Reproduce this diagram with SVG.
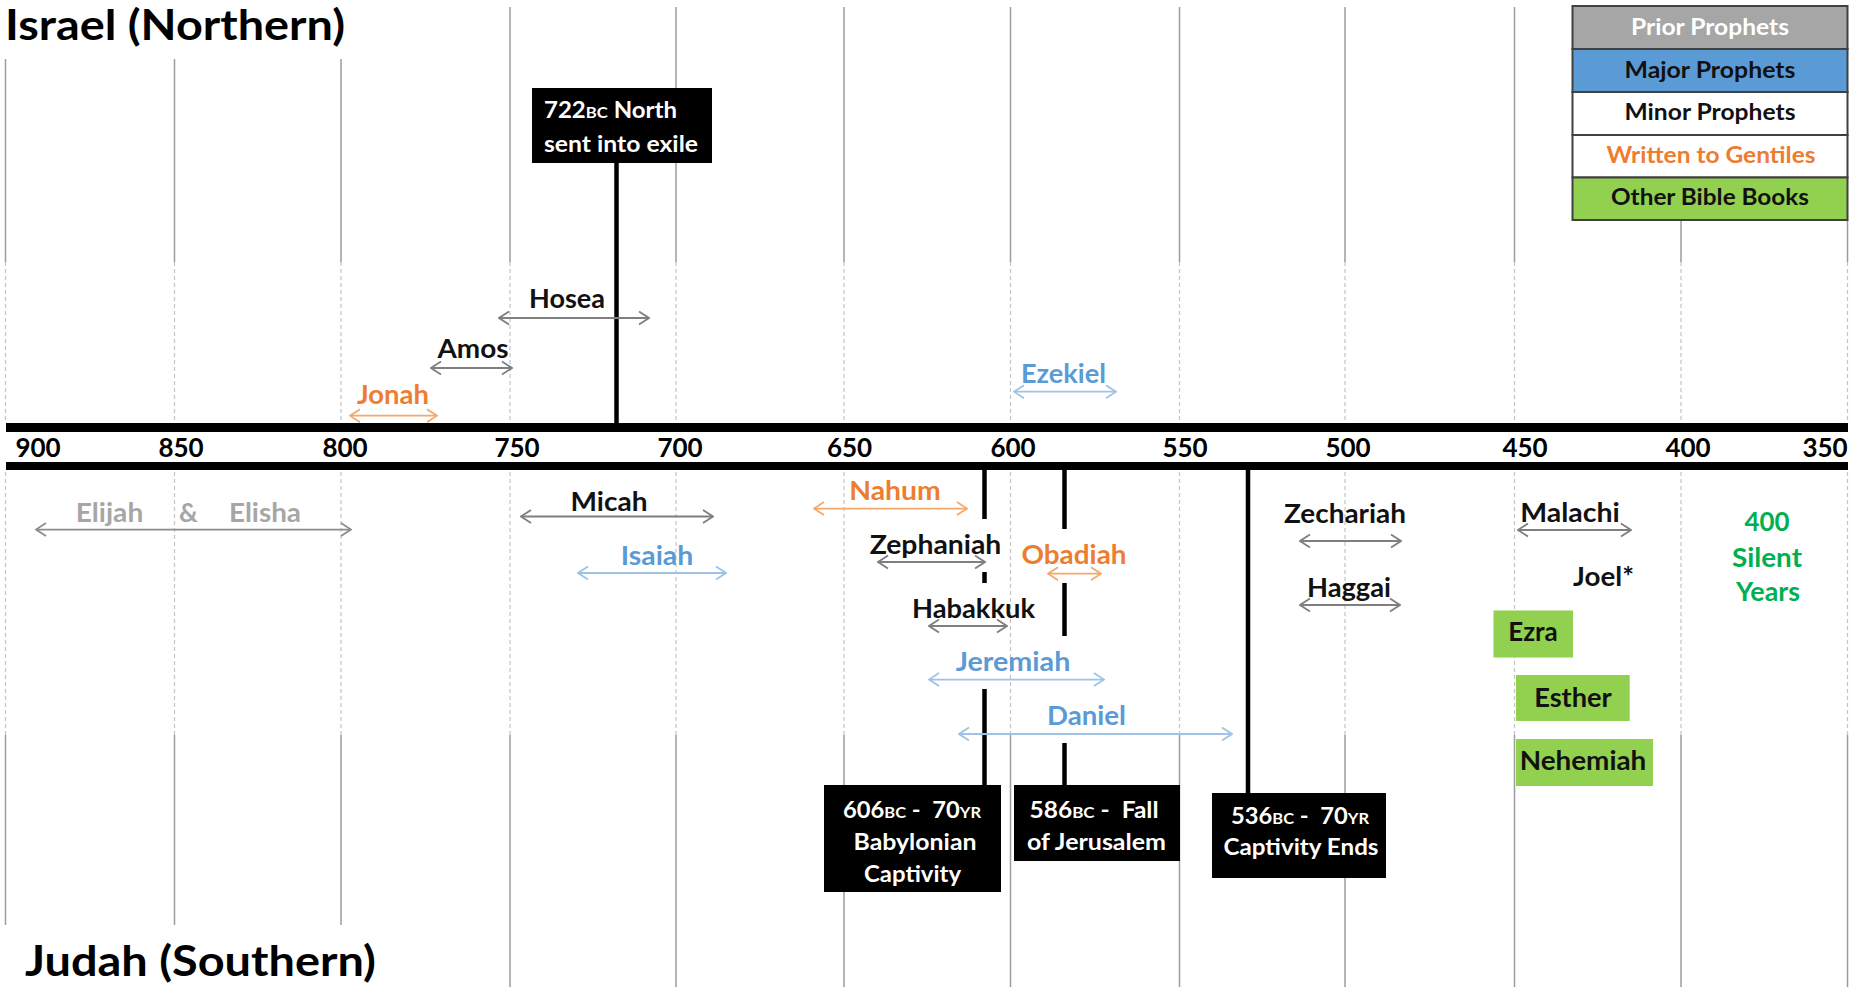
<svg xmlns="http://www.w3.org/2000/svg" width="1865" height="987" viewBox="0 0 1865 987">
<style>
text{font-family:Lato,"Liberation Sans",sans-serif;font-weight:bold}
.ttl{font-size:42px;fill:#000}
.num{font-size:26px;text-anchor:middle;fill:#000}
.lbl{font-size:26px;text-anchor:middle}
.box{font-size:23px;fill:#fff}
.mid{text-anchor:middle}
.leg{font-size:22px;text-anchor:middle}
.sc{font-size:16px}
.k{fill:#111}
.o{fill:#ed7d31}
.b{fill:#5b9bd5}
.g{fill:#a6a6a6}
.gr{fill:#00b050}
.gs{stroke:#9c9c9c;stroke-width:1.5;fill:none}
.gd{stroke:#c4c4c4;stroke-width:1.2;stroke-dasharray:4 3;fill:none}
.ev{stroke:#000;stroke-width:4.5;fill:none}
.ar{stroke-width:1.8;fill:none}
.ak{stroke:#7f7f7f}
.ae{stroke:#8c8c8c}
.ao{stroke:#f4a86c}
.ab{stroke:#9dc3e6}
.lr{stroke:#404040;stroke-width:2}
</style>
<defs>
<marker id="mk" viewBox="0 0 12 16" refX="11" refY="8" markerWidth="12" markerHeight="16" markerUnits="userSpaceOnUse" orient="auto-start-reverse"><path d="M1,1.5 L11,8 L1,14.5" fill="none" stroke="#7f7f7f" stroke-width="1.8"/></marker>
<marker id="me" viewBox="0 0 12 16" refX="11" refY="8" markerWidth="12" markerHeight="16" markerUnits="userSpaceOnUse" orient="auto-start-reverse"><path d="M1,1.5 L11,8 L1,14.5" fill="none" stroke="#8c8c8c" stroke-width="1.8"/></marker>
<marker id="mo" viewBox="0 0 12 16" refX="11" refY="8" markerWidth="12" markerHeight="16" markerUnits="userSpaceOnUse" orient="auto-start-reverse"><path d="M1,1.5 L11,8 L1,14.5" fill="none" stroke="#f4a86c" stroke-width="1.8"/></marker>
<marker id="mb" viewBox="0 0 12 16" refX="11" refY="8" markerWidth="12" markerHeight="16" markerUnits="userSpaceOnUse" orient="auto-start-reverse"><path d="M1,1.5 L11,8 L1,14.5" fill="none" stroke="#9dc3e6" stroke-width="1.8"/></marker>
</defs>
<rect width="1865" height="987" fill="#fff"/>

<g id="grid">
<path class="gs" d="M5.5,59V262M174.5,59V262M341,59V262M510,7V262M676,7V262M844,7V262M1010.5,7V262M1179.5,7V262M1345,7V262M1514.5,7V262M1681,220V262M1847.5,220V262"/>
<path class="gd" d="M5.5,262V423M174.5,262V423M341,262V423M510,262V423M676,262V423M844,262V423M1010.5,262V423M1179.5,262V423M1345,262V423M1514.5,262V423M1681,262V423M1847.5,262V423"/>
<path class="gd" d="M5.5,472V735M174.5,472V735M341,472V735M510,472V735M676,472V735M844,472V735M1010.5,472V735M1179.5,472V735M1345,472V735M1514.5,472V735M1681,472V735M1847.5,472V735"/>
<path class="gs" d="M5.5,735V925M174.5,735V925M341,735V925M510,735V987M676,735V987M844,735V987M1010.5,735V987M1179.5,735V987M1345,735V987M1514.5,735V987M1681,735V987M1847.5,735V987"/>
</g>

<g id="titles">
<text id="t-israel" class="ttl" x="5" y="40" textLength="340" lengthAdjust="spacingAndGlyphs">Israel (Northern)</text>
<text id="t-judah" class="ttl" x="25" y="976" textLength="351" lengthAdjust="spacingAndGlyphs">Judah (Southern)</text>
</g>

<g id="axis">
<rect x="6" y="423" width="1842" height="9" fill="#000"/>
<rect x="6" y="462" width="1842" height="8" fill="#000"/>
<text class="num" x="38" y="457" textLength="45">900</text>
<text class="num" x="181" y="457" textLength="45">850</text>
<text class="num" x="345" y="457" textLength="45">800</text>
<text class="num" x="517" y="457" textLength="45">750</text>
<text class="num" x="680" y="457" textLength="45">700</text>
<text class="num" x="849.5" y="457" textLength="45">650</text>
<text class="num" x="1013" y="457" textLength="45">600</text>
<text class="num" x="1185" y="457" textLength="45">550</text>
<text class="num" x="1348" y="457" textLength="45">500</text>
<text class="num" x="1525" y="457" textLength="45">450</text>
<text class="num" x="1688" y="457" textLength="45">400</text>
<text class="num" x="1825" y="457" textLength="45">350</text>
</g>

<g id="legend">
<rect class="lr" x="1572.5" y="6" width="275" height="43" fill="#a6a6a6"/>
<rect class="lr" x="1572.5" y="49" width="275" height="43" fill="#5b9bd5"/>
<rect class="lr" x="1572.5" y="92" width="275" height="43" fill="#fff"/>
<rect class="lr" x="1572.5" y="135" width="275" height="42.5" fill="#fff"/>
<rect class="lr" x="1572.5" y="177.5" width="275" height="42.5" fill="#92d050"/>
<text class="leg" x="1710" y="35" fill="#fff" textLength="158" lengthAdjust="spacingAndGlyphs">Prior Prophets</text>
<text class="leg k" x="1710" y="77.5" textLength="171" lengthAdjust="spacingAndGlyphs">Major Prophets</text>
<text class="leg k" x="1710" y="120" textLength="171" lengthAdjust="spacingAndGlyphs">Minor Prophets</text>
<text class="leg o" x="1711" y="163" textLength="209" lengthAdjust="spacingAndGlyphs">Written to Gentiles</text>
<text class="leg k" x="1710" y="205" textLength="198" lengthAdjust="spacingAndGlyphs">Other Bible Books</text>
</g>

<g id="connectors">
<path class="ev" d="M616.5,163V423"/>
<path class="ev" d="M984.5,470V519M984.5,572V583M984.5,689V785"/>
<path class="ev" d="M1064.5,470V529M1064.5,583V636M1064.5,743V785"/>
<path class="ev" d="M1248,470V793"/>
<line class="ar ak" x1="499" y1="318" x2="649" y2="318" marker-start="url(#mk)" marker-end="url(#mk)"/>
<line class="ar ak" x1="431" y1="368" x2="512" y2="368" marker-start="url(#mk)" marker-end="url(#mk)"/>
<line class="ar ao" x1="350" y1="415.7" x2="437" y2="415.7" marker-start="url(#mo)" marker-end="url(#mo)"/>
<line class="ar ab" x1="1014" y1="391.7" x2="1116" y2="391.7" marker-start="url(#mb)" marker-end="url(#mb)"/>
<line class="ar ae" x1="36" y1="529.6" x2="351" y2="529.6" marker-start="url(#me)" marker-end="url(#me)"/>
<line class="ar ak" x1="521" y1="516.5" x2="713" y2="516.5" marker-start="url(#mk)" marker-end="url(#mk)"/>
<line class="ar ab" x1="578" y1="573" x2="726" y2="573" marker-start="url(#mb)" marker-end="url(#mb)"/>
<line class="ar ao" x1="814" y1="508.6" x2="967" y2="508.6" marker-start="url(#mo)" marker-end="url(#mo)"/>
<line class="ar ak" x1="878" y1="562" x2="985" y2="562" marker-start="url(#mk)" marker-end="url(#mk)"/>
<line class="ar ao" x1="1048" y1="573.7" x2="1101" y2="573.7" marker-start="url(#mo)" marker-end="url(#mo)"/>
<line class="ar ak" x1="929" y1="626" x2="1007" y2="626" marker-start="url(#mk)" marker-end="url(#mk)"/>
<line class="ar ab" x1="929" y1="679.6" x2="1104" y2="679.6" marker-start="url(#mb)" marker-end="url(#mb)"/>
<line class="ar ab" x1="959" y1="734" x2="1232" y2="734" marker-start="url(#mb)" marker-end="url(#mb)"/>
<line class="ar ak" x1="1300" y1="541" x2="1401" y2="541" marker-start="url(#mk)" marker-end="url(#mk)"/>
<line class="ar ak" x1="1300" y1="605" x2="1400" y2="605" marker-start="url(#mk)" marker-end="url(#mk)"/>
<line class="ar ak" x1="1518" y1="530" x2="1631" y2="530" marker-start="url(#mk)" marker-end="url(#mk)"/>
</g>

<g id="ev-722">
<rect x="532" y="88" width="180" height="75" fill="#000"/>
<text class="box" x="544" y="118" textLength="133" lengthAdjust="spacingAndGlyphs">722<tspan class="sc">BC</tspan> North</text>
<text class="box" x="544" y="152" textLength="154" lengthAdjust="spacingAndGlyphs">sent into exile</text>
</g>
<g id="ev-606">
<rect x="824" y="785" width="177" height="107" fill="#000"/>
<text class="box mid" x="912" y="818" textLength="138" lengthAdjust="spacingAndGlyphs">606<tspan class="sc">BC</tspan> -&#160; 70<tspan class="sc">YR</tspan></text>
<text class="box mid" x="915" y="850" textLength="123" lengthAdjust="spacingAndGlyphs">Babylonian</text>
<text class="box mid" x="912.5" y="882" textLength="97" lengthAdjust="spacingAndGlyphs">Captivity</text>
</g>
<g id="ev-586">
<rect x="1014" y="785" width="166" height="76" fill="#000"/>
<text class="box mid" x="1094" y="818" textLength="129" lengthAdjust="spacingAndGlyphs">586<tspan class="sc">BC</tspan> -&#160; Fall</text>
<text class="box mid" x="1096.5" y="850" textLength="139" lengthAdjust="spacingAndGlyphs">of Jerusalem</text>
</g>
<g id="ev-536">
<rect x="1212" y="793" width="174" height="85" fill="#000"/>
<text class="box mid" x="1300" y="824" textLength="138" lengthAdjust="spacingAndGlyphs">536<tspan class="sc">BC</tspan> -&#160; 70<tspan class="sc">YR</tspan></text>
<text class="box mid" x="1301" y="855" textLength="155" lengthAdjust="spacingAndGlyphs">Captivity Ends</text>
</g>

<g id="hosea"><text class="lbl k" x="567" y="308" textLength="76" lengthAdjust="spacingAndGlyphs">Hosea</text></g>
<g id="amos"><text class="lbl k" x="473" y="358" textLength="71" lengthAdjust="spacingAndGlyphs">Amos</text></g>
<g id="jonah"><text class="lbl o" x="393" y="404" textLength="72" lengthAdjust="spacingAndGlyphs">Jonah</text></g>
<g id="ezekiel"><text class="lbl b" x="1063.5" y="383" textLength="85" lengthAdjust="spacingAndGlyphs">Ezekiel</text></g>
<g id="elijah-elisha">
<text class="lbl g" x="109.5" y="522" textLength="67.5" lengthAdjust="spacingAndGlyphs">Elijah</text>
<text class="lbl g" x="188.5" y="522">&amp;</text>
<text class="lbl g" x="265" y="522" textLength="72" lengthAdjust="spacingAndGlyphs">Elisha</text>
</g>
<g id="micah"><text class="lbl k" x="609" y="511" textLength="77" lengthAdjust="spacingAndGlyphs">Micah</text></g>
<g id="isaiah"><text class="lbl b" x="657" y="565" textLength="72.6" lengthAdjust="spacingAndGlyphs">Isaiah</text></g>
<g id="nahum"><text class="lbl o" x="895" y="500" textLength="91.5" lengthAdjust="spacingAndGlyphs">Nahum</text></g>
<g id="zephaniah"><text class="lbl k" x="935.5" y="554" textLength="131.7" lengthAdjust="spacingAndGlyphs">Zephaniah</text></g>
<g id="obadiah"><text class="lbl o" x="1074" y="564" textLength="105" lengthAdjust="spacingAndGlyphs">Obadiah</text></g>
<g id="habakkuk"><text class="lbl k" x="973.5" y="618" textLength="123" lengthAdjust="spacingAndGlyphs">Habakkuk</text></g>
<g id="jeremiah"><text class="lbl b" x="1013" y="671" textLength="114.7" lengthAdjust="spacingAndGlyphs">Jeremiah</text></g>
<g id="daniel"><text class="lbl b" x="1086.5" y="725" textLength="79" lengthAdjust="spacingAndGlyphs">Daniel</text></g>
<g id="zechariah"><text class="lbl k" x="1345" y="522.5" textLength="122" lengthAdjust="spacingAndGlyphs">Zechariah</text></g>
<g id="haggai"><text class="lbl k" x="1349" y="597" textLength="84" lengthAdjust="spacingAndGlyphs">Haggai</text></g>
<g id="malachi"><text class="lbl k" x="1570" y="522" textLength="99.5" lengthAdjust="spacingAndGlyphs">Malachi</text></g>
<g id="joel"><text class="lbl k" x="1603.5" y="586" textLength="61" lengthAdjust="spacingAndGlyphs">Joel*</text></g>
<g id="silent-years">
<text class="lbl gr" x="1767" y="531" textLength="45" lengthAdjust="spacingAndGlyphs">400</text>
<text class="lbl gr" x="1767" y="566.5" textLength="70" lengthAdjust="spacingAndGlyphs">Silent</text>
<text class="lbl gr" x="1768" y="601" textLength="64" lengthAdjust="spacingAndGlyphs">Years</text>
</g>
<g id="ezra">
<rect x="1493.5" y="610.5" width="79.5" height="47" fill="#92d050"/>
<text class="lbl k" x="1533" y="641" textLength="49.6" lengthAdjust="spacingAndGlyphs">Ezra</text>
</g>
<g id="esther">
<rect x="1516" y="675" width="113.7" height="46" fill="#92d050"/>
<text class="lbl k" x="1573" y="707" textLength="77.6" lengthAdjust="spacingAndGlyphs">Esther</text>
</g>
<g id="nehemiah">
<rect x="1516" y="739" width="137" height="47" fill="#92d050"/>
<text class="lbl k" x="1583" y="770" textLength="126.6" lengthAdjust="spacingAndGlyphs">Nehemiah</text>
</g>
</svg>
